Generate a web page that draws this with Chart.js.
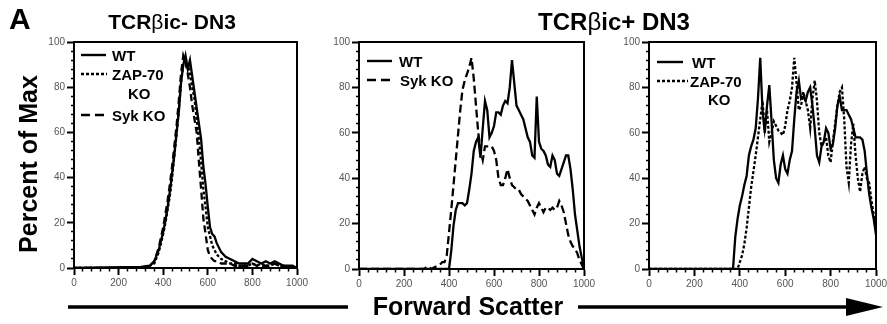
<!DOCTYPE html>
<html><head><meta charset="utf-8">
<script src="https://cdn.jsdelivr.net/npm/chart.js@4"></script>
<style>
html,body{margin:0;padding:0;background:#fff;}
body{width:887px;height:324px;position:relative;overflow:hidden;font-family:"Liberation Sans",Arial,sans-serif;color:#000;}
canvas{position:absolute;}
.t{position:absolute;font-weight:bold;white-space:nowrap;line-height:1;}
.b{font-weight:normal;}
svg{position:absolute;left:0;top:0;}
</style></head><body>
<canvas id="c1"></canvas><canvas id="c2"></canvas><canvas id="c3"></canvas>
<svg width="887" height="324" viewBox="0 0 887 324">
  <g stroke="#000" stroke-width="2.4" fill="none">
    <line x1="81" y1="55" x2="106" y2="55"/>
    <line x1="81" y1="74" x2="107" y2="74" stroke-dasharray="3,2"/>
    <line x1="81" y1="115" x2="105" y2="115" stroke-dasharray="9,5"/>
    <line x1="367" y1="61" x2="392" y2="61"/>
    <line x1="367" y1="80" x2="392" y2="80" stroke-dasharray="9,5"/>
    <line x1="657" y1="62" x2="683" y2="62"/>
    <line x1="657" y1="81" x2="688" y2="81" stroke-dasharray="3,2"/>
  </g>
  <g stroke="#000" stroke-width="3.5">
    <line x1="68" y1="307" x2="348" y2="307"/>
    <line x1="578" y1="307" x2="850" y2="307"/>
  </g>
  <polygon points="846,298 883,307 846,316" fill="#000"/>
</svg>
<div class="t" style="left:9px;top:4px;font-size:30px;">A</div>
<div class="t" id="t1" style="left:172px;top:11px;font-size:21px;transform:translateX(-50%);">TCR<span class="b">β</span>ic- DN3</div>
<div class="t" id="t2" style="left:614px;top:10px;font-size:24px;transform:translateX(-50%);">TCR<span class="b">β</span>ic+ DN3</div>
<div class="t" style="left:28px;top:164px;font-size:25px;transform:translate(-50%,-50%) rotate(-90deg);">Percent of Max</div>
<div class="t" style="left:468px;top:294px;font-size:25px;transform:translateX(-50%);">Forward Scatter</div>
<div class="t" style="left:112px;top:48px;font-size:15px;">WT</div>
<div class="t" style="left:112px;top:67px;font-size:15px;">ZAP-70</div>
<div class="t" style="left:128px;top:86px;font-size:15px;">KO</div>
<div class="t" style="left:112px;top:108px;font-size:15px;">Syk KO</div>
<div class="t" style="left:399px;top:54px;font-size:15px;">WT</div>
<div class="t" style="left:400px;top:73px;font-size:15px;">Syk KO</div>
<div class="t" style="left:692px;top:55px;font-size:15px;">WT</div>
<div class="t" style="left:690px;top:74px;font-size:15px;">ZAP-70</div>
<div class="t" style="left:708px;top:92px;font-size:15px;">KO</div>
<script>
// ---- data: panel 1 (TCRbic- DN3) ----
const P1_X = [0,300,340,360,380,400,410,420,430,440,450,460,470,480,490,500,510,520,530,540,550,560,570,580,590,600,610,620,630,640,660,680,700,720,740,760,780,800,820,840,860,880,900,920,940,960,980,1000];
const P1_WT  = [0,0.5,1,3,8, 16,21,27,34,42,50,60,69,82,90,94,88,92,85,78,71,64,57,45,37,27,18,15,14,11, 7,5,4,3,2,2,2,4,3,2,3,2,3,2,1,1,1,0];
const P1_ZAP = [0,0,1,2,7, 15,20,26,32,40,50,59,70,82,90,93,90,86,80,75,66,57,47,35,27,18,14,10,8,6, 4,3,2,2,1,1,1,2,1,2,1,1,2,1,1,0,0,0];
const P1_SYK = [0,0,1,3,9, 18,24,30,37,45,54,63,74,86,94,91,86,80,72,66,60,47,35,22,15,8,5,4,3,3, 2,2,2,1,1,1,1,2,1,1,1,1,2,1,1,0,0,0];
// ---- data: panel 2 (TCRbic+ DN3, WT vs Syk KO) ----
const P2_X = [0,290,300,310,320,340,360,370,380,390,400,410,420,430,440,450,460,470,480,490,500,510,520,530,540,550,560,570,580,590,600,610,620,630,640,650,660,670,680,690,700,710,720,730,740,750,760,770,780,790,800,810,820,830,840,850,860,870,880,890,900,910,920,930,940,950,960,970,980,990,1000];
const P2_WT  = [0,0,0,0,0,0,0,0, 0,0,0,8,19,26,29,29,29,28, 29,35,42,52,56,58,49,62,74,70, 58,60,63,69,69,68,72,74,73,80, 92,82,72,70,68,66,62,58,56,50, 49,76,56,53,52,50,46,45,50,48, 42,41,44,47,50,50,44,35,24,17, 10,5,0];
const P2_SYK = [0,0,1,1,0,1,2,3, 3,6,16,26,37,48,59,70,79,83, 86,89,93,84,72,60,52,48,54,54, 54,54,52,48,40,37,37,40,44,40, 37,36,35,35,33,32,31,30,28,26, 24,27,29,27,25,27,27,26,27,26, 27,30,28,25,20,15,12,10,9,7, 4,2,0];
// ---- data: panel 3 (TCRbic+ DN3, WT vs ZAP-70 KO) ----
const P3_X = [0,360,370,380,390,400,410,420,430,440,450,460,470,480,490,500,510,520,530,540,550,560,570,580,590,600,610,620,630,640,650,660,670,680,690,700,710,720,730,740,750,760,770,780,790,800,810,820,830,840,850,860,870,880,890,900,910,920,930,940,950,960,970,980,990,1000];
const P3_WT  = [0,0,0, 14,22,28,32,37,41,50,54,57,62, 75,93,70,60,72,81,65,48,40,38, 46,50,44,42,48,52,66,78,83,75, 76,74,78,80,72,62,50,47,54,56, 62,60,53,55,62,72,76,70,70,70, 68,66,62,58,58,58,57,52,42,33, 27,22,15];
const P3_ZAP = [0,0,0, 0,0,3,6,11,18,27,36,43,50, 58,66,74,62,70,56,60,65,63,61, 60,59,63,70,74,80,93,82,70,72, 78,74,70,62,75,83,74,60,54,56, 58,50,47,56,64,72,78,80,66,45, 38,55,64,50,40,34,42,45,40,38, 30,24,18];
// ---- tick settings ----
const X_MAJOR = 200, X_MINOR = 40, Y_MAJOR = 20, Y_MINOR = 4;

Chart.defaults.font.family = '"Liberation Sans", Arial, sans-serif';
const pts = (xs, ys) => xs.map((x, i) => ({x: x, y: ys[i]}));
const boxPlugin = {id: 'box', afterDatasetsDraw(c) {
  const a = c.chartArea, ctx = c.ctx;
  ctx.save(); ctx.strokeStyle = '#000'; ctx.lineWidth = 2;
  ctx.strokeRect(a.left, a.top, a.right - a.left, a.bottom - a.top);
  ctx.restore();
}};
const YW = 42, XH = 26, PT = 12, PR = 14;
const isMaj = (c, m) => c.tick && Math.round(c.tick.value) % m === 0;
function ds(label, xs, ys, dash) {
  return {label: label, data: pts(xs, ys), borderColor: '#000', borderWidth: 2.3, borderDash: dash, pointRadius: 0, tension: 0, fill: false};
}
function makePanel(id, box, datasets) {
  const cv = document.getElementById(id);
  const w = box.right - box.left + YW + PR, h = box.bottom - box.top + PT + XH;
  cv.width = w; cv.height = h;
  cv.style.width = w + 'px'; cv.style.height = h + 'px';
  cv.style.left = (box.left - YW) + 'px'; cv.style.top = (box.top - PT) + 'px';
  new Chart(cv, {
    type: 'line',
    data: {datasets: datasets},
    options: {
      responsive: false, animation: false, devicePixelRatio: 1,
      layout: {padding: {top: PT, right: PR, left: 0, bottom: 0}},
      plugins: {legend: {display: false}, tooltip: {enabled: false}},
      scales: {
        x: {type: 'linear', min: 0, max: 1000,
          afterFit(s) { s.height = XH; },
          ticks: {stepSize: X_MINOR, autoSkip: false, maxRotation: 0, minRotation: 0, color: '#555', padding: 2,
            font: {size: 10}, callback: v => (Math.round(v) % X_MAJOR === 0 ? String(v) : '')},
          grid: {drawOnChartArea: false, drawTicks: true, tickLength: 7, tickColor: '#000',
            tickWidth: c => (isMaj(c, X_MAJOR) ? 2 : 1.5),
            tickBorderDash: c => (isMaj(c, X_MAJOR) ? [] : [2.5, 30]),
            tickBorderDashOffset: 0},
          border: {display: true, color: '#000', width: 2}},
        y: {min: 0, max: 100,
          afterFit(s) { s.width = YW; },
          ticks: {stepSize: Y_MINOR, autoSkip: false, color: '#555', padding: 2,
            font: {size: 10}, callback: v => (Math.round(v) % Y_MAJOR === 0 ? String(v) : '')},
          grid: {drawOnChartArea: false, drawTicks: true, tickLength: 7, tickColor: '#000',
            tickWidth: c => (isMaj(c, Y_MAJOR) ? 2 : 1.5),
            tickBorderDash: c => (isMaj(c, Y_MAJOR) ? [] : [2.5, 30]),
            tickBorderDashOffset: c => (isMaj(c, Y_MAJOR) ? 0 : 28.5)},
          border: {display: true, color: '#000', width: 2}}
      }
    },
    plugins: [boxPlugin]
  });
}
makePanel('c1', {left: 74, top: 42, right: 297, bottom: 268}, [
  ds('WT', P1_X, P1_WT, []), ds('ZAP-70 KO', P1_X, P1_ZAP, [3, 2]), ds('Syk KO', P1_X, P1_SYK, [7, 4])]);
makePanel('c2', {left: 359, top: 42, right: 584, bottom: 269}, [
  ds('WT', P2_X, P2_WT, []), ds('Syk KO', P2_X, P2_SYK, [8, 4])]);
makePanel('c3', {left: 649, top: 42, right: 876, bottom: 269}, [
  ds('WT', P3_X, P3_WT, []), ds('ZAP-70 KO', P3_X, P3_ZAP, [3, 2])]);
</script>
</body></html>
